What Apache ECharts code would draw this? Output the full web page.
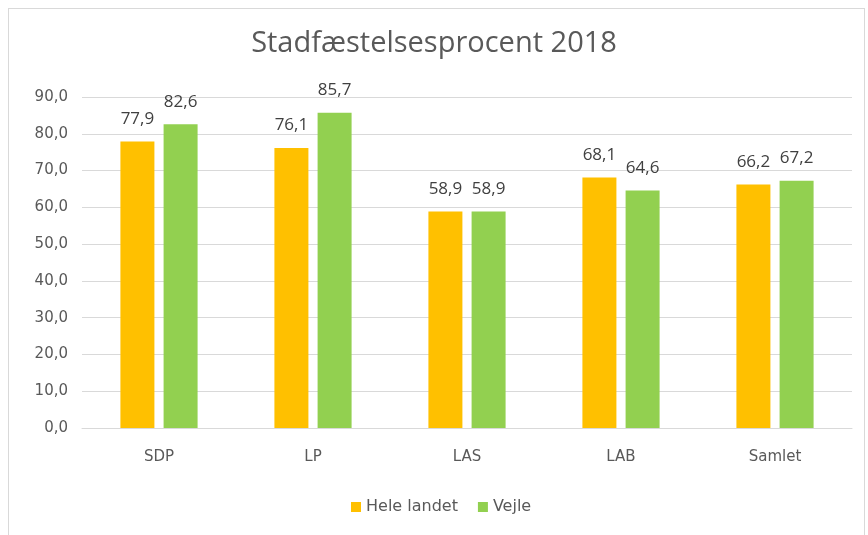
<!DOCTYPE html>
<html>
<head>
	<meta charset="utf-8" />
	<script src="https://cdn.jsdelivr.net/npm/echarts@6/dist/echarts.min.js"></script>
</head>
<body style="margin:0; background-color:#ffffff">
	<div id="main" style="position:absolute; left:8px; top:8px; width:855px; height:535px; border:1px solid #d9d9d9; border-bottom:none;"></div>
	<div id="chart" style="position:absolute; left:0; top:0; width:868px; height:535px;"></div>
</body>
<script type="text/javascript">
	var categories = ['SDP', 'LP', 'LAS', 'LAB', 'Samlet'];
	var heleLandet = [77.9, 76.1, 58.9, 68.1, 66.2];
	var vejle = [82.6, 85.7, 58.9, 64.6, 67.2];
	var seriesNames = ['Hele landet', 'Vejle'];

	function fmt(v) {
		return v.toFixed(1).replace('.', ',');
	}

	var myChart = echarts.init(document.getElementById('chart'));

	var labelStyle = {
		show: true,
		position: 'top',
		distance: 14,
		color: '#404040',
		fontSize: 17,
		fontFamily: 'Open Sans',
		formatter: function (p) { return fmt(p.value); }
	};

	option = {
		backgroundColor: 'transparent',
		title: {
			text: 'Stadfæstelsesprocent 2018',
			left: 'center',
			top: 24,
			textStyle: {
				color: '#595959',
				fontSize: 29,
				fontWeight: 'normal',
				fontFamily: 'Open Sans'
			}
		},
		legend: {
			data: seriesNames,
			top: 494,
			left: 346,
			itemWidth: 10,
			itemHeight: 10,
			itemGap: 20,
			icon: 'rect',
			textStyle: {
				color: '#595959',
				fontSize: 16,
				fontFamily: 'DejaVu Sans'
			}
		},
		grid: {
			left: 82,
			right: 16,
			top: 97,
			bottom: 107
		},
		xAxis: {
			type: 'category',
			data: categories,
			axisLine: { lineStyle: { color: '#d9d9d9' } },
			axisTick: { show: false },
			axisLabel: {
				color: '#595959',
				fontSize: 15,
				fontFamily: 'DejaVu Sans',
				margin: 22
			}
		},
		yAxis: {
			type: 'value',
			min: 0,
			max: 90,
			interval: 10,
			axisLine: { show: false },
			axisTick: { show: false },
			splitLine: { lineStyle: { color: '#d9d9d9' } },
			axisLabel: {
				color: '#595959',
				fontSize: 15,
				fontFamily: 'DejaVu Sans',
				margin: 14,
				formatter: function (v) { return fmt(v); }
			}
		},
		series: [
			{
				name: seriesNames[0],
				type: 'bar',
				data: heleLandet,
				barWidth: 34,
				barGap: '27%',
				itemStyle: { color: '#ffc000' },
				label: labelStyle
			},
			{
				name: seriesNames[1],
				type: 'bar',
				data: vejle,
				barWidth: 34,
				itemStyle: { color: '#92d050' },
				label: labelStyle
			}
		]
	};

	myChart.setOption(option);
</script>
</html>
